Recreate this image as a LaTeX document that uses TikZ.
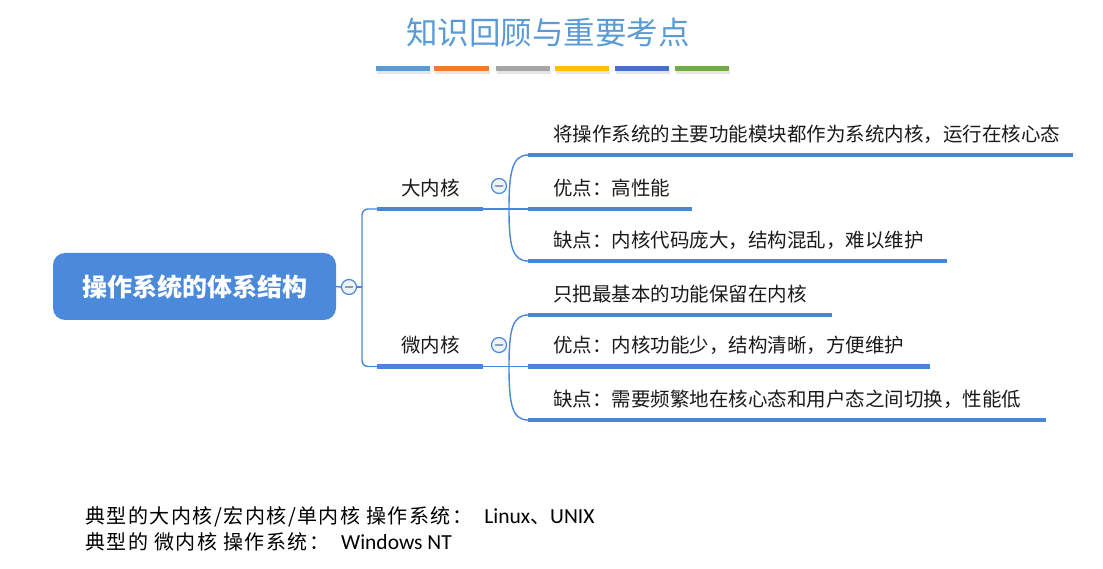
\documentclass[tikz,border=0pt]{standalone}
\usepackage{fontspec}
\setmainfont{Noto Sans CJK SC}
\newfontfamily\lat{Carlito}
\newfontfamily\cjkwide[LetterSpace=7.5]{Noto Sans CJK SC}
\usetikzlibrary{calc}
\definecolor{lineblue}{HTML}{4A86D8}
\definecolor{rootblue}{HTML}{4B8ADB}
\definecolor{titleblue}{HTML}{5B9BD5}
\definecolor{minusgray}{HTML}{8E9BB3}
\definecolor{foldfill}{HTML}{EEF3FA}
\definecolor{barA}{HTML}{5B9BD5}
\definecolor{barB}{HTML}{ED7D31}
\definecolor{barC}{HTML}{A5A5A5}
\definecolor{barD}{HTML}{FFC000}
\definecolor{barE}{HTML}{4472C4}
\definecolor{barF}{HTML}{70AD47}
\definecolor{txt}{HTML}{1A1A1A}
\begin{document}
\begin{tikzpicture}[x=1pt,y=-1pt,
  conn/.style={draw=lineblue, line width=1.4pt},
  bar/.style={draw=lineblue, line width=4.5pt},
  topic/.style={anchor=south west, inner sep=0pt, text height=17pt, text depth=13.6pt,
    align=left, font=\fontsize{19.5}{20}\selectfont, text=txt},
  fold/.style={circle, draw=lineblue, line width=1.2pt, fill=foldfill, minimum size=15pt, inner sep=0pt},
  minus/.style={draw=minusgray, line width=2pt, line cap=round},
  root/.style={rounded corners=12pt, fill=rootblue, text=white, minimum width=283pt,
    minimum height=67pt, inner sep=0pt, font=\bfseries\fontsize{25}{26}\selectfont},
  note/.style={anchor=west, inner sep=0pt, font=\cjkwide\fontsize{20}{22}\selectfont, text=black},
]
\useasboundingbox (0,0) rectangle (1103,569);

% title and colour bars
\node[font=\fontsize{31.5}{32}\selectfont, text=titleblue] (title) at (548,33) {知识回顾与重要考点};
\foreach \xa/\xb/\c in {376/430/barA, 434/489/barB, 496/550/barC, 555/609/barD, 615/669/barE, 675/729/barF}{
  \fill[black!10] (\xa+1,71) rectangle (\xb+1,74);
  \fill[\c] (\xa,66.5) rectangle (\xb,71.5);
}

% root
\node[root] (root) at (194.5,286.5) {操作系统的体系结构};
\node[fold] (f0) at (349,287) {};
\draw[minus] ([xshift=-3.5pt]f0.center) -- ([xshift=3.5pt]f0.center);
\coordinate (t) at (362,287);

% branch labels
\node[topic, text width=106pt] (big) at (377,209) {\hspace*{24pt}大内核};
\node[topic, text width=106pt] (micro) at (377,366.5) {\hspace*{24pt}微内核};
\node[fold] (f1) at (499,186) {};
\draw[minus] ([xshift=-3.5pt]f1.center) -- ([xshift=3.5pt]f1.center);
\node[fold] (f2) at (499,345) {};
\draw[minus] ([xshift=-3.5pt]f2.center) -- ([xshift=3.5pt]f2.center);

% children
\node[topic, text width=545pt] (b1) at (528,155) {\hspace*{25pt}将操作系统的主要功能模块都作为系统内核，运行在核心态};
\node[topic, text width=164pt] (b2) at (528,209) {\hspace*{25pt}优点：高性能};
\node[topic, text width=419pt] (b3) at (528,261) {\hspace*{25pt}缺点：内核代码庞大，结构混乱，难以维护};
\node[topic, text width=304pt] (m1) at (528,315) {\hspace*{25pt}只把最基本的功能保留在内核};
\node[topic, text width=402pt] (m2) at (528,366.5) {\hspace*{25pt}优点：内核功能少，结构清晰，方便维护};
\node[topic, text width=518pt] (m3) at (528,420) {\hspace*{25pt}缺点：需要频繁地在核心态和用户态之间切换，性能低};

\coordinate (j1) at (509,209);
\coordinate (j2) at (509,366.5);

% connectors
\draw[conn] (root.east) -- (f0.west);
\draw[conn] (f0.east) -- (t);
\draw[conn, rounded corners=6pt] (t) |- (big.south west);
\draw[conn, rounded corners=6pt] (t) |- (micro.south west);

\draw[conn] (big.south east) -- (b2.south west);
\draw[conn] (j1) .. controls (509,173) and (512,155) .. (b1.south west);
\draw[conn] (j1) .. controls (509,245) and (512,261) .. (b3.south west);

\draw[conn] (micro.south east) -- (m2.south west);
\draw[conn] (j2) .. controls (509,331) and (512,315) .. (m1.south west);
\draw[conn] (j2) .. controls (509,404) and (512,420) .. (m3.south west);

% underline bars
\foreach \n in {big,micro,b1,b2,b3,m1,m2,m3}{
  \draw[bar] (\n.south west) -- (\n.south east);
}

% bottom notes
\node[note] (note1) at (85,517)
  {典型的大内核/宏内核/单内核 操作系统：\ \ {\lat\fontsize{21.5}{22}\selectfont Linux}、{\lat\fontsize{21.5}{22}\selectfont UNIX}};
\node[note] (note2) at (85,542)
  {典型的 微内核 操作系统：\ \ {\lat\fontsize{21.5}{22}\selectfont Windows NT}};
\end{tikzpicture}
\end{document}
